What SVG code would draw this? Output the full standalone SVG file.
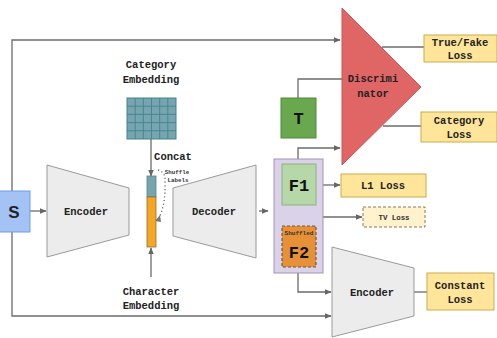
<svg xmlns="http://www.w3.org/2000/svg" width="497" height="338" viewBox="0 0 497 338">
<defs>
<marker id="ah" viewBox="0 0 10 10" refX="9" refY="5" markerWidth="7" markerHeight="7" markerUnits="userSpaceOnUse" orient="auto"><path d="M0,1 L10,5 L0,9 z" fill="#666"/></marker>
<style>
.t{font-family:"Liberation Mono","DejaVu Sans Mono",monospace;font-weight:bold;font-size:10.5px;fill:#222;text-anchor:middle}
.big{font-family:"Liberation Mono","DejaVu Sans Mono",monospace;font-weight:bold;font-size:17px;fill:#111;text-anchor:middle}
.ln{fill:none;stroke:#6b6b6b;stroke-width:1.3}
.ar{marker-end:url(#ah)}
.trap{fill:#ececec;stroke:#9a9a9a;stroke-width:1}
.loss{fill:#ffe599;stroke:#c9ab4f;stroke-width:1}
</style>
</defs>
<rect width="497" height="338" fill="#fff"/>
<g id="connectors">
<path class="ln ar" d="M12,191 V40 H340"/>
<path class="ln ar" d="M12,232 V316 H331"/>
<path class="ln ar" d="M30,211 H46"/>
<path class="ln ar" d="M151,139 V176"/>
<path class="ln ar" d="M151,277 V248"/>
<path class="ln" d="M158,170 Q166,172 165,182 Q166,205 158,220" stroke-dasharray="1.2,2.5"/>
<path d="M155,221 L160,215 L161,222 z" fill="#777"/>
<path class="ln ar" d="M259,211 H268"/>
<path class="ln" d="M298,98 V79 H342"/>
<path class="ln ar" d="M298,159 V148 H340"/>
<path class="ln" d="M382,47 H424"/>
<path class="ln" d="M383,126 H421"/>
<path class="ln ar" d="M316,185 H340"/>
<path class="ln ar" d="M323,217 H362"/>
<path class="ln ar" d="M298,273 V292 H331"/>
<path class="ln" d="M414,292 H427"/>
</g>
<g id="S">
<rect x="-1" y="191" width="31" height="41" fill="#a4c2f4" stroke="#6d9eeb"/>
<text x="14" y="218" font-family="Liberation Sans,Arial,sans-serif" font-weight="bold" font-size="17" fill="#222" text-anchor="middle">S</text>
</g>
<g id="encoder1">
<path class="trap" d="M47,165 L129,188 L129,235 L47,257 z"/>
<text class="t" x="86" y="215">Encoder</text>
</g>
<g id="category-embedding">
<text class="t" x="151" y="68">Category</text>
<text class="t" x="151" y="83">Embedding</text>
<rect x="127" y="98" width="49" height="41" fill="#76a5af" stroke="#45818e" stroke-width="1"/>
<path d="M135.2,98 V139 M143.3,98 V139 M151.5,98 V139 M159.7,98 V139 M167.8,98 V139 M127,106.2 H176 M127,114.4 H176 M127,122.6 H176 M127,130.8 H176" stroke="#45818e" stroke-width="0.9" fill="none"/>
</g>
<g id="concat">
<text class="t" x="173" y="160">Concat</text>
<rect x="147" y="176" width="9" height="21" fill="#76a5af" stroke="#5f7f86" stroke-width="0.8"/>
<rect x="147" y="197" width="9" height="50" fill="#f6a623" stroke="#8a7040" stroke-width="0.8"/>
<text x="177" y="174" font-family="Liberation Mono,monospace" font-weight="bold" font-size="5.8" fill="#333" text-anchor="middle">Shuffle</text>
<text x="178" y="182" font-family="Liberation Mono,monospace" font-weight="bold" font-size="5.8" fill="#333" text-anchor="middle">Labels</text>
</g>
<g id="character-embedding">
<text class="t" x="151" y="295">Character</text>
<text class="t" x="151" y="309">Embedding</text>
</g>
<g id="decoder">
<path class="trap" d="M173,188 L256,165 L256,258 L173,236 z"/>
<text class="t" x="214" y="215">Decoder</text>
</g>
<g id="output-group">
<rect x="274" y="159" width="49" height="114" fill="#d9d2e9" stroke="#9f94b8" stroke-width="1"/>
</g>
<g id="F1">
<rect x="282" y="164" width="34" height="41" fill="#b6d7a8" stroke="#8fb07f" stroke-width="1"/>
<text class="big" x="299" y="191">F1</text>
</g>
<g id="F2">
<rect x="282" y="226" width="34" height="41" fill="#e69138" stroke="#6b5a4a" stroke-width="1.2" stroke-dasharray="3,2"/>
<text x="299" y="235" font-family="Liberation Mono,monospace" font-weight="bold" font-size="6" fill="#333" text-anchor="middle">Shuffled</text>
<text class="big" x="299" y="258">F2</text>
</g>
<g id="T">
<rect x="281" y="98" width="35" height="40" fill="#6aa84f" stroke="#4e8a3a" stroke-width="1"/>
<text class="big" x="298.5" y="124">T</text>
</g>
<g id="discriminator">
<path d="M342,8 L421,87 L342,165 z" fill="#e06666" stroke="#c95555" stroke-width="1"/>
<text class="t" x="373" y="82">Discrimi</text>
<text class="t" x="373" y="97">nator</text>
</g>
<g id="true-fake-loss">
<rect class="loss" x="424" y="35" width="73" height="27"/>
<text class="t" x="460" y="46">True/Fake</text>
<text class="t" x="460" y="59">Loss</text>
</g>
<g id="category-loss">
<rect class="loss" x="421" y="112" width="76" height="30"/>
<text class="t" x="459" y="124">Category</text>
<text class="t" x="459" y="138">Loss</text>
</g>
<g id="l1-loss">
<rect class="loss" x="341" y="174" width="85" height="23"/>
<text class="t" x="383" y="189">L1 Loss</text>
</g>
<g id="tv-loss">
<rect x="363" y="207" width="62" height="20" fill="#fff2cc" stroke="#8a7a55" stroke-width="1" stroke-dasharray="3,2"/>
<text x="394" y="220" font-family="Liberation Mono,monospace" font-weight="bold" font-size="7.4" fill="#333" text-anchor="middle">TV Loss</text>
</g>
<g id="encoder2">
<path class="trap" d="M332,247 L414,268 L414,316 L332,337 z"/>
<text class="t" x="372" y="296">Encoder</text>
</g>
<g id="constant-loss">
<rect class="loss" x="427" y="273" width="67" height="37"/>
<text class="t" x="460" y="289">Constant</text>
<text class="t" x="460" y="303">Loss</text>
</g>
</svg>
